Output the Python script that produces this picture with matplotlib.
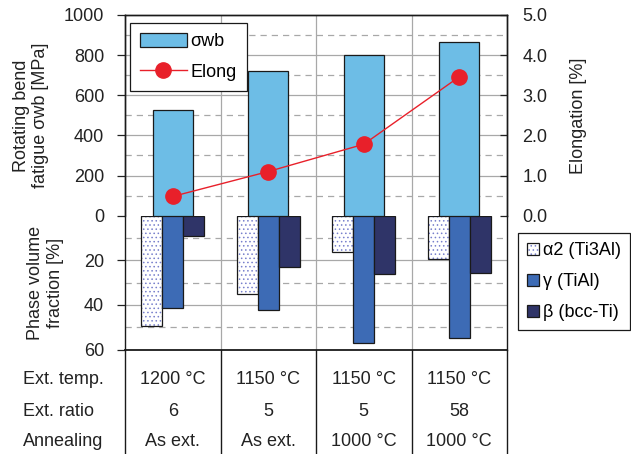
import numpy as np
import matplotlib.pyplot as plt
from matplotlib.patches import Patch
from matplotlib.lines import Line2D

plt.rcParams['font.family'] = ['Liberation Sans', 'DejaVu Sans']
plt.rcParams['font.size'] = 13
plt.rcParams['hatch.linewidth'] = 0.6

# specimen conditions
ext_temp = ['1200 °C', '1150 °C', '1150 °C', '1150 °C']
ext_ratio = ['6', '5', '5', '58']
annealing = ['As ext.', 'As ext.', '1000 °C', '1000 °C']

# rotating bend fatigue strength [MPa] and elongation [%]
sigma_wb = [525, 723, 803, 867]
elong = [0.48, 1.1, 1.78, 3.46]

# phase volume fractions [%]
alpha2 = [49.4, 35, 16.5, 19.3]
gamma = [41.6, 42.2, 57.3, 55]
beta = [9.1, 23, 26.3, 25.6]

c_sig = '#6DBDE6'
c_gam = '#3D6BB5'
c_bet = '#2F3468'
c_dot = '#7880cc'
c_red = '#E8202A'
grid_c = '#a8a8a8'

x = np.arange(len(sigma_wb))

fig = plt.figure(figsize=(6.31, 4.54), dpi=100)
W, H = 631, 454
L, R = 125 / W, 507 / W
ax = fig.add_axes([L, 1 - 215.7 / H, R - L, (215.7 - 15) / H])
axp = fig.add_axes([L, 1 - 349.5 / H, R - L, (349.5 - 215.7) / H])
axt = fig.add_axes([L, 0, R - L, 1 - 349.5 / H])

# --- fatigue strength + elongation
ax.set_xlim(-0.5, 3.5)
ax.set_ylim(0, 1000)
for y in range(100, 1000, 100):
    ls = '-' if y % 200 == 0 else (0, (5, 4))
    ax.axhline(y, color=grid_c, lw=0.9, ls=ls, zorder=0)
for b in [0.5, 1.5, 2.5]:
    ax.axvline(b, color=grid_c, lw=0.9, zorder=0)
ax.bar(x, sigma_wb, width=0.42, color=c_sig, edgecolor='#1a1a1a', lw=0.9, zorder=2)
ax.set_xticks([])
ax.set_yticks(range(0, 1001, 200))
ax.tick_params(axis='y', direction='out', length=6, width=0.9, pad=9, colors='#222222')
ax.set_ylabel('Rotating bend\nfatigue σwb [MPa]', color='#222222', linespacing=1.2)
ax.yaxis.set_label_coords(-0.198, 0.5)

ax2 = ax.twinx()
ax2.set_ylim(0, 5)
ax2.plot(x, elong, color=c_red, lw=1.0, marker='o', ms=11, mec=c_red, mfc=c_red, zorder=5)
ax2.set_yticks(np.arange(0, 5.1, 1.0))
ax2.set_yticklabels(['%.1f' % v for v in np.arange(0, 5.1, 1.0)])
ax2.tick_params(axis='y', direction='in', length=5, width=0.9, pad=11, colors='#222222')
ax2.set_ylabel('Elongation [%]', color='#222222')
ax2.yaxis.set_label_coords(1.165, 0.5)

for a in (ax, ax2):
    for s in a.spines.values():
        s.set_linewidth(1.0)
        s.set_color('#1a1a1a')
ax.spines['bottom'].set_visible(False)
ax2.spines['bottom'].set_visible(False)

h_sig = Patch(facecolor=c_sig, edgecolor='#1a1a1a', lw=0.9)
h_el = Line2D([], [], color=c_red, lw=1.0, marker='o', ms=11, mfc=c_red, mec=c_red)
leg = ax2.legend([h_sig, h_el], ['σwb', 'Elong'], loc='upper left',
                 bbox_to_anchor=(5 / 382, 1 - 8 / 200.7), borderaxespad=0,
                 handlelength=2.6, handleheight=0.8,
                 labelspacing=0.75, borderpad=0.55, handletextpad=0.2,
                 fancybox=False, framealpha=1, edgecolor='#1a1a1a')
leg.get_frame().set_linewidth(0.9)

# --- phase fractions, plotted downward
axp.set_xlim(-0.5, 3.5)
axp.set_ylim(60, 0)
for y in range(10, 60, 10):
    ls = '-' if y % 20 == 0 else (0, (5, 4))
    axp.axhline(y, color=grid_c, lw=0.9, ls=ls, zorder=0)
for b in [0.5, 1.5, 2.5]:
    axp.axvline(b, color=grid_c, lw=0.9, zorder=0)
w = 0.22
axp.bar(x - w, alpha2, width=w, color='white', edgecolor=c_dot, hatch='....', lw=0, zorder=2)
axp.bar(x - w, alpha2, width=w, fill=False, edgecolor='#1a1a1a', lw=0.9, zorder=3)
axp.bar(x, gamma, width=w, color=c_gam, edgecolor='#1a1a1a', lw=0.9, zorder=3)
axp.bar(x + w, beta, width=w, color=c_bet, edgecolor='#1a1a1a', lw=0.9, zorder=3)
axp.set_xticks([])
axp.set_yticks([20, 40, 60])
axp.tick_params(axis='y', direction='out', length=6, width=0.9, pad=9, colors='#222222')
axp.set_ylabel('Phase volume\nfraction [%]', color='#222222', linespacing=1.2)
axp.yaxis.set_label_coords(-0.16, 0.5)
axp.spines['top'].set_visible(False)
for s in axp.spines.values():
    s.set_linewidth(1.0)
    s.set_color('#1a1a1a')
axp.spines['bottom'].set_linewidth(1.3)

h_a2 = (Patch(facecolor='white', edgecolor=c_dot, hatch='....', lw=0),
        Patch(fill=False, edgecolor='#1a1a1a', lw=0.9))
h_g = Patch(facecolor=c_gam, edgecolor='#1a1a1a', lw=0.9)
h_b = Patch(facecolor=c_bet, edgecolor='#1a1a1a', lw=0.9)
leg2 = fig.legend([h_a2, h_g, h_b], ['α2 (Ti3Al)', 'γ (TiAl)', 'β (bcc-Ti)'],
                  loc='upper left', bbox_to_anchor=(518 / W, 1 - 233 / H),
                  borderaxespad=0, handlelength=0.65, handleheight=0.65,
                  labelspacing=0.78, borderpad=0.5, handletextpad=0.25,
                  fancybox=False, framealpha=1, edgecolor='#1a1a1a')
leg2.get_frame().set_linewidth(0.9)

# --- condition table
axt.set_xlim(-0.5, 3.5)
axt.set_ylim(0, 1)
axt.set_xticks([])
axt.set_yticks([])
axt.patch.set_alpha(0)
axt.spines['top'].set_visible(False)
axt.spines['bottom'].set_visible(False)
for s in ('left', 'right'):
    axt.spines[s].set_linewidth(1.0)
    axt.spines[s].set_color('#1a1a1a')
for b in [0.5, 1.5, 2.5]:
    axt.axvline(b, color='#1a1a1a', lw=1.0)

rows = [('Ext. temp.', ext_temp), ('Ext. ratio', ext_ratio), ('Annealing', annealing)]
row_y = [380, 411, 441]
for (name, vals), py in zip(rows, row_y):
    yy = (454 - py) / (454 - 349.5)
    axt.text(-0.267, yy, name, transform=axt.transAxes, ha='left', va='center', color='#222222')
    for xi, v in zip(x, vals):
        axt.text(xi, yy, v, ha='center', va='center', color='#222222')

fig.savefig('out.png', dpi=100)
